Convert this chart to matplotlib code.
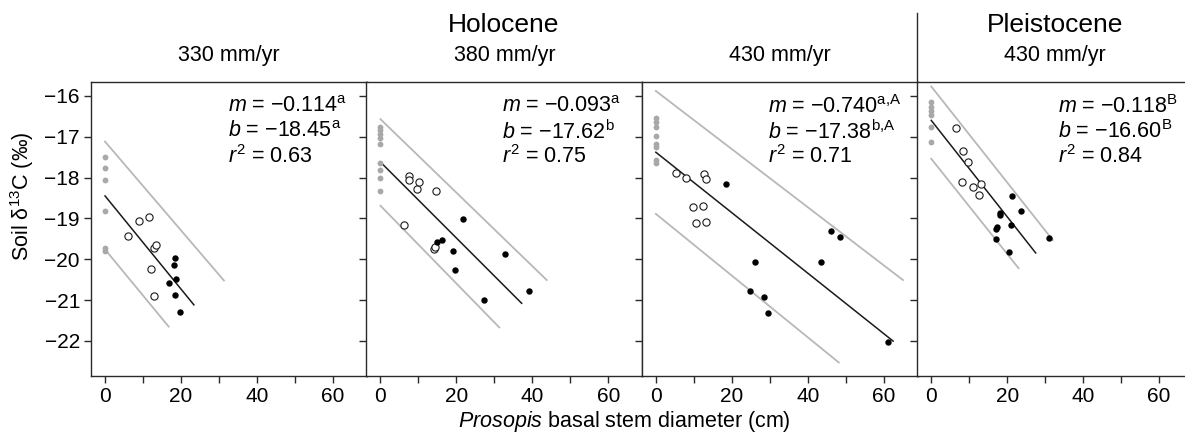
import matplotlib
matplotlib.use("Agg")
import matplotlib.pyplot as plt
from matplotlib.lines import Line2D

plt.rcParams['font.family'] = ['Liberation Sans', 'DejaVu Sans']
plt.rcParams['mathtext.fontset'] = 'custom'
plt.rcParams['mathtext.rm'] = 'Liberation Sans'
plt.rcParams['mathtext.it'] = 'Liberation Sans:italic'
plt.rcParams['mathtext.bf'] = 'Liberation Sans:bold'

# ---- data ----
panel_titles = ["330 mm/yr", "380 mm/yr", "430 mm/yr", "430 mm/yr"]
m_labels = ["\u22120.114$^{\\mathrm{a}}$", "\u22120.093$^{\\mathrm{a}}$",
            "\u22120.740$^{\\mathrm{a,\\!A}}$", "\u22120.118$^{\\mathrm{B}}$"]
b_labels = ["\u221218.45$^{\\mathrm{a}}$", "\u221217.62$^{\\mathrm{b}}$",
            "\u221217.38$^{\\mathrm{b,\\!A}}$", "\u221216.60$^{\\mathrm{B}}$"]
r2_labels = ["0.63", "0.75", "0.71", "0.84"]

# fitted line (slope, intercept, x end) as drawn
fit_slope = [-0.114, -0.093, -0.074, -0.118]
fit_icpt = [-18.45, -17.62, -17.38, -16.60]
fit_xend = [23.4, 37.2, 62.5, 27.5]

# grey bounding lines: (x0, y0, x1, y1)
upper_band = [(0.0, -17.12, 31.3, -20.52), (0.0, -16.57, 43.8, -20.51),
              (0.0, -15.88, 65.1, -20.51), (0.0, -15.77, 32.0, -19.53)]
lower_band = [(0.7, -19.84, 16.75, -21.65), (0.0, -18.69, 31.3, -21.67),
              (0.0, -18.89, 48.2, -22.53), (0.0, -17.54, 23.0, -20.22)]

# grey points (x = 0)
grey_y = [
    [-17.49, -17.77, -18.07, -18.82, -19.73, -19.79],
    [-16.75, -16.83, -16.93, -17.04, -17.18, -17.65, -17.81, -18.0, -18.33],
    [-16.55, -16.65, -16.75, -16.99, -17.18, -17.26, -17.57, -17.65],
    [-16.16, -16.26, -16.36, -16.47, -16.75, -17.12],
]

# open circles
open_x = [
    [5.97, 8.95, 11.67, 13.0, 13.5, 12.0, 12.98],
    [6.3, 7.46, 7.6, 9.56, 10.26, 14.65, 14.0, 14.5],
    [5.44, 8.07, 12.6, 13.3, 9.8, 12.45, 10.5, 13.1],
    [6.58, 8.33, 9.56, 8.16, 10.96, 13.16, 12.7],
]
open_y = [
    [-19.43, -19.06, -18.96, -19.72, -19.66, -20.23, -20.9],
    [-19.16, -17.96, -18.06, -18.29, -18.1, -18.32, -19.76, -19.69],
    [-17.88, -18.02, -17.91, -18.03, -18.71, -18.69, -19.12, -19.1],
    [-16.79, -17.34, -17.63, -18.11, -18.24, -18.16, -18.42],
]

# filled circles
fill_x = [
    [18.4, 18.07, 18.77, 16.93, 18.4, 19.8],
    [14.9, 16.2, 21.7, 19.0, 19.65, 32.8, 27.3, 39.2],
    [18.4, 26.05, 24.7, 28.4, 29.65, 46.2, 48.4, 43.6, 61.1],
    [21.3, 23.7, 18.0, 18.2, 21.0, 17.3, 17.1, 17.0, 20.35, 31.1],
]
fill_y = [
    [-19.97, -20.14, -20.48, -20.59, -20.87, -21.29],
    [-19.59, -19.53, -19.02, -19.8, -20.26, -19.88, -21.01, -20.77],
    [-18.15, -20.06, -20.79, -20.93, -21.32, -19.31, -19.45, -20.06, -22.02],
    [-18.46, -18.81, -18.86, -18.91, -19.16, -19.22, -19.26, -19.51, -19.83, -19.47],
]

W, H = 1185, 442
fig = plt.figure(figsize=(W / 100, H / 100), dpi=100)

spine_col = '#2a2a2a'
band_col = '#b8b8b8'
grey_col = '#a8a8a8'
fs = 15.5

for i in range(4):
    left_px = 91 + 275.4 * i
    ax = fig.add_axes([left_px / W, 66 / H, 276 / W, 294 / H])
    ax.set_xlim(-3.7, 69)
    ax.set_ylim(-22.86, -15.66)

    # bounding lines
    ux0, uy0, ux1, uy1 = upper_band[i]
    lx0, ly0, lx1, ly1 = lower_band[i]
    ax.plot([ux0, ux1], [uy0, uy1], color=band_col, lw=1.3)
    ax.plot([lx0, lx1], [ly0, ly1], color=band_col, lw=1.3)

    # fitted line
    xs = [0, fit_xend[i]]
    ax.plot(xs, [fit_icpt[i] + fit_slope[i] * x for x in xs], color='#1a1a1a', lw=1.1)

    ax.plot([0] * len(grey_y[i]), grey_y[i], 'o', color=grey_col, ms=4.2, mew=0)
    ax.plot(open_x[i], open_y[i], 'o', mfc='white', mec='#1a1a1a', ms=5.2, mew=0.8)
    ax.plot(fill_x[i], fill_y[i], 'o', color='black', ms=4.6, mew=0)

    ax.set_xticks(range(0, 70, 10))
    ax.set_xticklabels(['0', '', '20', '', '40', '', '60'])
    ax.set_yticks(range(-22, -15))
    if i == 0:
        ax.set_yticklabels([str(v).replace('-', '\u2212') for v in range(-22, -15)])
    else:
        ax.set_yticklabels([])
    ax.tick_params(direction='out', length=5, width=1, color=spine_col,
                   labelsize=15, pad=3)
    for s in ax.spines.values():
        s.set_color(spine_col)
        s.set_linewidth(1)

    tx = [0.496, 0.493, 0.457, 0.511][i]
    ax.text(tx, 0.915, "$m$ = " + m_labels[i], transform=ax.transAxes,
            fontsize=fs, va='center', ha='left')
    ax.text(tx, 0.830, "$b$ = " + b_labels[i], transform=ax.transAxes,
            fontsize=fs, va='center', ha='left')
    ax.text(tx, 0.745, "$r^{2}$ = " + r2_labels[i], transform=ax.transAxes,
            fontsize=fs, va='center', ha='left')

    fig.text((left_px + 138) / W, 1 - 55 / H, panel_titles[i],
             fontsize=fs, ha='center', va='center')

fig.text(504 / W, 1 - 25 / H, "Holocene", fontsize=19, ha='center', va='center')
fig.text(1055 / W, 1 - 25 / H, "Pleistocene", fontsize=19, ha='center', va='center')

# separator between Holocene and Pleistocene
fig.add_artist(Line2D([917.2 / W, 917.2 / W], [1 - 13 / H, 1 - 82 / H],
                      transform=fig.transFigure, color=spine_col, lw=1))

fig.text(22 / W, 1 - 196 / H, "Soil \u03b4$^{13}$C (\u2030)", fontsize=fs,
         rotation=90, ha='center', va='center')
fig.text(624 / W, 1 - 422 / H, "$Prosopis$ basal stem diameter (cm)",
         fontsize=fs, ha='center', va='center')

fig.savefig("out.png", dpi=100)
